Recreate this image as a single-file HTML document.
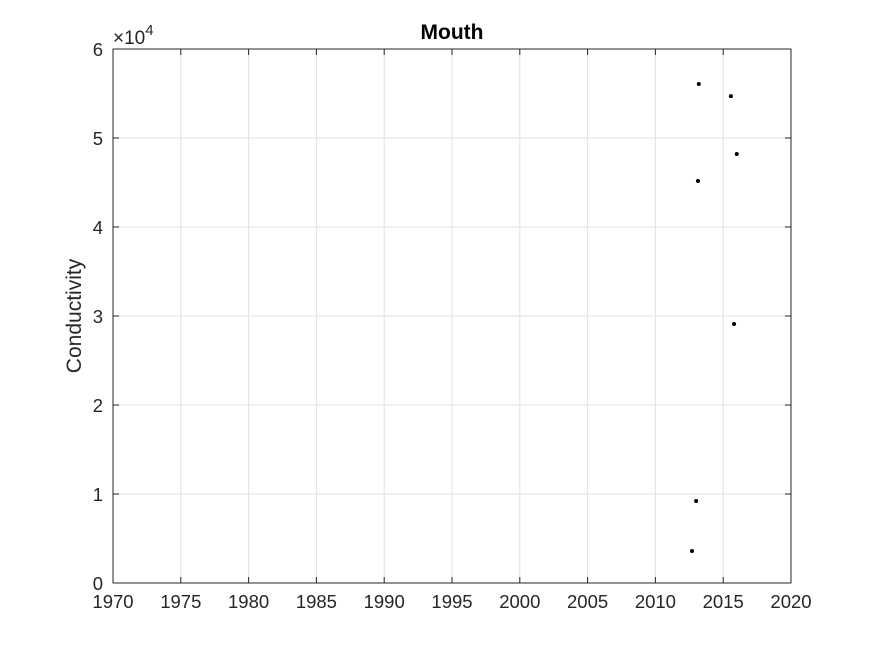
<!DOCTYPE html>
<html><head><meta charset="utf-8"><style>body{margin:0;background:#fff}svg{display:block}</style></head>
<body>
<svg id="chart" width="875" height="656" xmlns="http://www.w3.org/2000/svg" font-family="Liberation Sans, sans-serif">
<rect width="875" height="656" fill="#fff"/>
<g id="grid"></g>
<rect x="113" y="49" width="678" height="534" fill="none" stroke="#262626" stroke-width="1"/>
<g id="ticks"></g>
<g id="points"></g>
<text x="452" y="39" text-anchor="middle" font-size="21" font-weight="bold" fill="#000">Mouth</text>
<text transform="translate(81,316) rotate(-90)" text-anchor="middle" font-size="21" fill="#262626">Conductivity</text>
<text x="113" y="44" font-size="19" fill="#262626">×10<tspan dy="-9" font-size="15">4</tspan></text>
</svg>
<script>
const xTicks=[1970,1975,1980,1985,1990,1995,2000,2005,2010,2015,2020];
const yTicks=[0,10000,20000,30000,40000,50000,60000];
const yTickLabels=["0","1","2","3","4","5","6"];
const years=[2013.2,2015.57,2016.0,2013.14,2015.8,2013.0,2012.7];
const conductivity=[56070,54700,48200,45170,29100,9210,3600];
const L=113,R=791,T=49,B=583;
const xs=v=>L+(v-1970)/(2020-1970)*(R-L);
const ys=v=>B-(v/60000)*(B-T);
const NS="http://www.w3.org/2000/svg";
const grid=document.getElementById('grid'),ticks=document.getElementById('ticks'),pts=document.getElementById('points');
function mk(tag,attrs,parent){const e=document.createElementNS(NS,tag);for(const k in attrs)e.setAttribute(k,attrs[k]);parent.appendChild(e);return e;}
xTicks.forEach(t=>{const x=xs(t);
 const g=mk('line',{x1:x,x2:x,y1:T,y2:B,stroke:'#e2e2e2','stroke-width':1},grid);
 
 
 mk('line',{x1:x,x2:x,y1:B,y2:B-6,stroke:'#262626'},ticks);
 mk('line',{x1:x,x2:x,y1:T,y2:T+6,stroke:'#262626'},ticks);
 const tx=mk('text',{x:x,y:B+25,'text-anchor':'middle','font-size':18.5,fill:'#262626'},ticks);
 tx.textContent=t;
 
 
});
yTicks.forEach((t,i)=>{const y=ys(t);
 const g=mk('line',{x1:L,x2:R,y1:y,y2:y,stroke:'#e2e2e2','stroke-width':1},grid);
 
 
 mk('line',{x1:L,x2:L+6,y1:y,y2:y,stroke:'#262626'},ticks);
 mk('line',{x1:R,x2:R-6,y1:y,y2:y,stroke:'#262626'},ticks);
 const tx=mk('text',{x:L-10,y:y+7,'text-anchor':'end','font-size':18.5,fill:'#262626'},ticks);
 tx.textContent=yTickLabels[i];
 
 
});
years.forEach((yr,i)=>{
 const c=mk('circle',{cx:xs(yr),cy:ys(conductivity[i]),r:2,fill:'#000'},pts);
 
 
});
</script>
</body></html>
